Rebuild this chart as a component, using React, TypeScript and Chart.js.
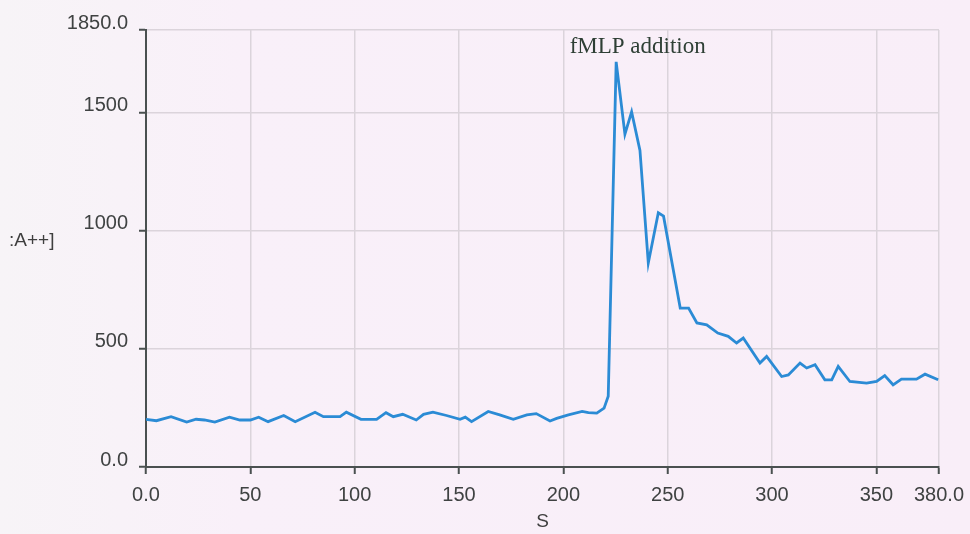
import React, { useEffect, useRef } from "react";
import { Chart, registerables } from "chart.js";

Chart.register(...registerables);

// Time in seconds
const timeS = [
  0, 5, 12, 19.5, 24, 28, 33, 40, 45, 50, 54, 58.5, 66, 71.5, 81, 85, 93, 96, 103, 110.5,
  115, 118.5, 123, 129.5, 133, 137.5, 144, 150.5, 153, 156, 164, 169.5, 176, 182.5, 187, 193.6,
  196.8, 202.4, 209, 212, 216, 219.5, 221.5, 225.3, 229.5, 232.7, 236.7, 240.7, 245.5, 248,
  256, 260, 264, 268.7, 274, 279, 283, 286.2, 294.2, 297.4, 304.6, 307.8, 313.4, 316.6,
  320.6, 325.3, 328.6, 331.7, 337.3, 345.3, 350.1, 354, 358, 362, 369.2, 373.3, 379.6,
];

// [Ca++] values
const caValues = [
  202, 196, 213, 190, 202, 199, 190, 211, 199, 199, 211, 192, 218, 192, 232, 213, 213, 232, 202, 202,
  230, 213, 223, 199, 223, 232, 218, 202, 211, 192, 235, 221, 202, 221, 226, 195,
  206, 221, 235, 230, 228, 249, 300, 1715, 1409, 1503, 1340, 864, 1076, 1062,
  673, 673, 610, 602, 567, 553, 525, 546, 440, 468, 383, 390, 440, 419,
  433, 369, 369, 426, 362, 355, 362, 387, 348, 372, 372, 393, 369,
];

const xTickValues = [0, 50, 100, 150, 200, 250, 300, 350, 380];
const yTickValues = [0, 500, 1000, 1500, 1850];
const xMin = 0;
const xMax = 380;
const yMin = 0;
const yMax = 1850;

const annotationText = "fMLP addition";
const annotationX = 203;
const annotationY = 1752;
const yAxisTitle = ":A++]";
const xAxisTitle = "S";

export default function App() {
  const canvasRef = useRef<HTMLCanvasElement | null>(null);

  useEffect(() => {
    if (!canvasRef.current) return;

    const bgPlugin = {
      id: "bgFill",
      beforeDraw(chart: any) {
        const { ctx, width, height } = chart;
        ctx.save();
        const g = ctx.createLinearGradient(0, 0, width, 0);
        g.addColorStop(0, "#f7f4f7");
        g.addColorStop(0.25, "#f9f0f9");
        g.addColorStop(1, "#f9eef8");
        ctx.fillStyle = g;
        ctx.fillRect(0, 0, width, height);
        ctx.restore();
      },
    };

    const textPlugin = {
      id: "extraText",
      afterDraw(chart: any) {
        const { ctx, chartArea } = chart;
        const xs = chart.scales.x;
        const ys = chart.scales.y;
        ctx.save();
        ctx.font = "23px 'Liberation Serif', 'DejaVu Serif', serif";
        ctx.fillStyle = "#2e3f35";
        ctx.textAlign = "left";
        ctx.textBaseline = "alphabetic";
        ctx.fillText(annotationText, xs.getPixelForValue(annotationX), ys.getPixelForValue(annotationY));
        ctx.font = "19px 'Liberation Sans', Arial, sans-serif";
        ctx.fillStyle = "#3f3f3f";
        ctx.textAlign = "left";
        ctx.textBaseline = "middle";
        ctx.fillText(yAxisTitle, 9, 241);
        ctx.textAlign = "center";
        ctx.fillText(xAxisTitle, (chartArea.left + chartArea.right) / 2, 522);
        ctx.restore();
      },
    };

    const tickFont = { family: "'Liberation Sans', Arial, sans-serif", size: 20 };

    const chart = new Chart(canvasRef.current, {
      type: "line",
      data: {
        datasets: [
          {
            data: timeS.map((t, i) => ({ x: t, y: caValues[i] })),
            borderColor: "#2b8bd5",
            borderWidth: 2.8,
            pointRadius: 0,
            tension: 0,
            fill: false,
          },
        ],
      },
      options: {
        animation: false,
        responsive: false,
        maintainAspectRatio: false,
        layout: { padding: { top: 30, right: 31, left: 0, bottom: 0 } },
        plugins: { legend: { display: false }, tooltip: { enabled: false } },
        scales: {
          x: {
            type: "linear",
            min: xMin,
            max: xMax,
            afterBuildTicks: (s: any) => {
              s.ticks = xTickValues.map((v) => ({ value: v }));
            },
            afterFit: (s: any) => {
              s.height = 67;
              s.paddingLeft = 0;
              s.paddingRight = 0;
            },
            ticks: {
              autoSkip: false,
              maxRotation: 0,
              padding: 9,
              color: "#3f4242",
              font: tickFont,
              callback: (v: any) => (v === xMin || v === xMax ? Number(v).toFixed(1) : String(v)),
            },
            grid: {
              color: "#dbd4db",
              lineWidth: 1.5,
              tickColor: "#4a5050",
              tickLength: 7,
              tickWidth: 2,
            },
            border: { color: "#4a5050", width: 2 },
          },
          y: {
            type: "linear",
            min: yMin,
            max: yMax,
            afterBuildTicks: (s: any) => {
              s.ticks = yTickValues.map((v) => ({ value: v }));
            },
            afterFit: (s: any) => {
              s.width = 146;
              s.paddingTop = 0;
              s.paddingBottom = 0;
            },
            ticks: {
              autoSkip: false,
              padding: 11,
              labelOffset: -7,
              color: "#3f4242",
              font: tickFont,
              callback: (v: any) => (v === yMin || v === yMax ? Number(v).toFixed(1) : String(v)),
            },
            grid: {
              color: "#dbd4db",
              lineWidth: 1.5,
              tickColor: "#4a5050",
              tickLength: 7,
              tickWidth: 2,
            },
            border: { color: "#4a5050", width: 2 },
          },
        },
      },
      plugins: [bgPlugin, textPlugin],
    });

    return () => chart.destroy();
  }, []);

  return (
    <canvas
      ref={canvasRef}
      width={970}
      height={534}
      style={{ position: "fixed", left: 0, top: 0, width: 970, height: 534 }}
    />
  );
}
